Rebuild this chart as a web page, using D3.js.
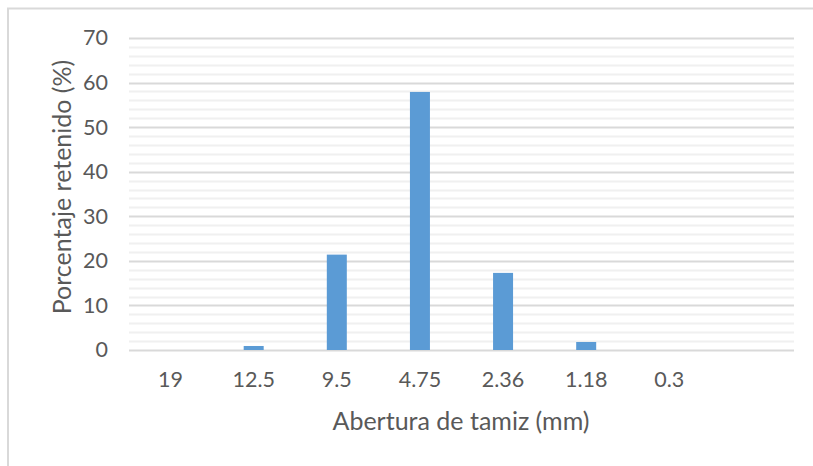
<!DOCTYPE html>
<html>
<head>
<meta charset="utf-8">
<script src="https://cdn.jsdelivr.net/npm/d3@7"></script>
<style>
  body { margin: 0; background: #fff; }
  text { font-family: Lato, "Open Sans", sans-serif; fill: #595959; }
</style>
</head>
<body>
<div id="canvas"></div>
<script>
const categories = ["19", "12.5", "9.5", "4.75", "2.36", "1.18", "0.3", ""];
const retenido = [0, 0.9, 21.4, 57.9, 17.3, 1.8, 0, null];
const yTicks = [0, 10, 20, 30, 40, 50, 60, 70];

const width = 813;
const height = 466;
const margin = { top: 38, left: 129, bottom: 116, right: 19 };
const iwidth = width - margin.left - margin.right;
const iheight = height - margin.top - margin.bottom;

const svg = d3.select("#canvas").append("svg")
  .attr("width", width)
  .attr("height", height);

// chart area border (only top and left visible in the picture)
svg.append("path")
  .attr("d", `M8,${height} V8.5 H${width}`)
  .attr("fill", "none")
  .attr("stroke", "#d9d9d9")
  .attr("stroke-width", 2);

const g = svg.append("g")
  .attr("transform", `translate(${margin.left},${margin.top})`);

const y = d3.scaleLinear().domain([0, 70]).range([iheight, 0]);
const x = d3.scaleBand()
  .domain(categories.map((d, i) => i))
  .range([0, iwidth])
  .padding(0);

// minor grid every 2
g.append("g").selectAll("line")
  .data(d3.range(0, 71, 2).filter(v => v % 10 !== 0))
  .join("line")
  .attr("x1", 0).attr("x2", iwidth)
  .attr("y1", d => Math.round(y(d)) + 0.5)
  .attr("y2", d => Math.round(y(d)) + 0.5)
  .attr("stroke", "#f0f0f0")
  .attr("stroke-width", 2);

// major grid
g.append("g").selectAll("line")
  .data(yTicks)
  .join("line")
  .attr("x1", 0).attr("x2", iwidth)
  .attr("y1", d => Math.round(y(d)) + 0.5)
  .attr("y2", d => Math.round(y(d)) + 0.5)
  .attr("stroke", "#d9d9d9")
  .attr("stroke-width", 2);

const barW = 20;
g.selectAll("rect.bar")
  .data(retenido.map((v, i) => ({ i, v })).filter(d => d.v))
  .join("rect")
  .attr("class", "bar")
  .attr("fill", "#5b9bd5")
  .attr("x", d => x(d.i) + x.bandwidth() / 2 - barW / 2)
  .attr("y", d => y(d.v))
  .attr("width", barW)
  .attr("height", d => y(0) - y(d.v));

// y axis labels
const yAxis = g.append("g")
  .call(d3.axisLeft(y).tickValues(yTicks).tickSize(0).tickPadding(21));
yAxis.select(".domain").remove();
yAxis.selectAll("text")
  .style("font-size", "21.5px")
  .attr("fill", "#595959");

// x axis labels
const xAxis = g.append("g")
  .attr("transform", `translate(0,${iheight})`)
  .call(d3.axisBottom(x).tickFormat(i => categories[i]).tickSize(0).tickPadding(22));
xAxis.select(".domain").remove();
xAxis.selectAll("text")
  .style("font-size", "21.5px")
  .attr("fill", "#595959");

// axis titles
svg.append("text")
  .attr("x", 461)
  .attr("y", 430)
  .attr("text-anchor", "middle")
  .style("font-size", "25px")
  .text("Abertura de tamiz (mm)");

svg.append("text")
  .attr("transform", "translate(71,187) rotate(-90)")
  .attr("text-anchor", "middle")
  .style("font-size", "25px")
  .text("Porcentaje retenido (%)");
</script>
</body>
</html>
